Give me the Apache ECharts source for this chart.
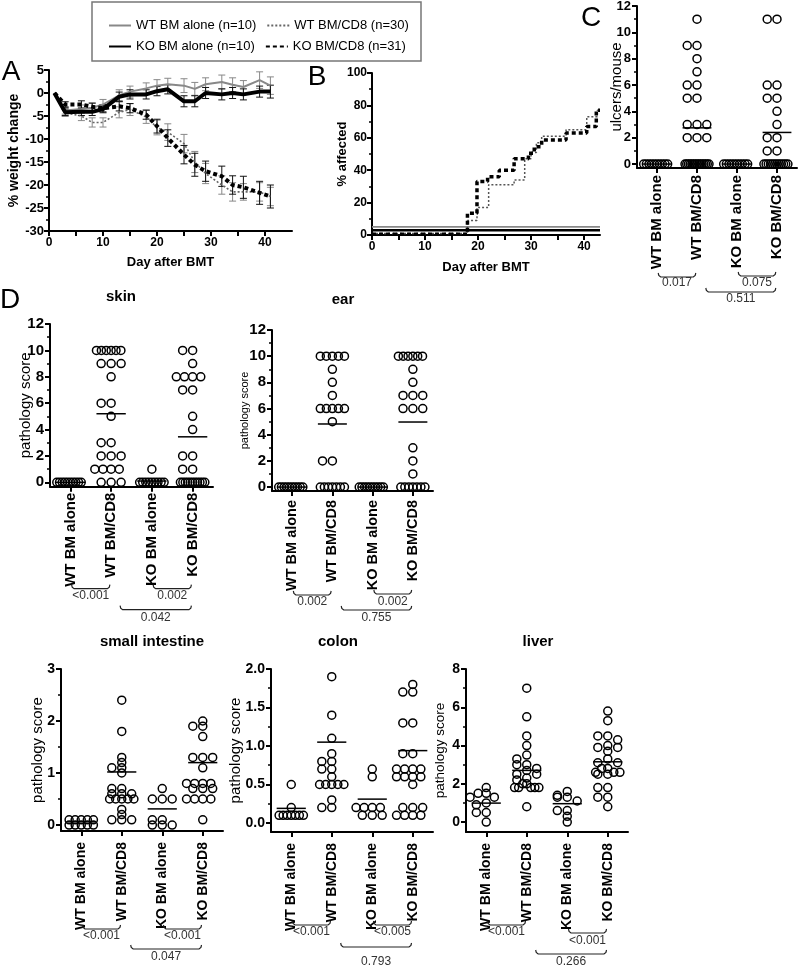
<!DOCTYPE html>
<html><head><meta charset="utf-8">
<script src="https://cdn.jsdelivr.net/npm/echarts@6/dist/echarts.min.js"></script>
<style>html,body{margin:0;padding:0;background:#fff}#c{width:800px;height:967px}</style>
</head><body><div id="c"></div>
<script>
const FONT = '"Liberation Sans", Arial, sans-serif';

// ---------- shared labels ----------
const cats = ['WT BM alone', 'WT BM/CD8', 'KO BM alone', 'KO BM/CD8'];
const seriesNames = ['WT BM alone (n=10)', 'WT BM/CD8 (n=30)', 'KO BM alone (n=10)', 'KO BM/CD8 (n=31)'];

// ---------- panel A : weight change ----------
const daysA = [1, 3, 6, 8, 10, 13, 15, 18, 20, 22, 25, 27, 29, 32, 34, 36, 39, 41];
const wtAloneA = [0, -3.8, -3.5, -3.2, -2.5, -0.5, 0.3, 1.0, 1.6, 1.9, 1.6, 0.9, 1.9, 2.4, 1.8, 1.3, 2.8, 1.6];
const wtAloneErr = [0, 0.8, 0.9, 1.0, 1.1, 1.2, 1.2, 1.2, 1.3, 1.3, 1.5, 1.4, 1.4, 1.5, 1.5, 1.4, 1.8, 1.9];
const koAloneA = [0, -4.2, -4.1, -4.1, -3.5, -0.8, -0.3, -0.3, 0.4, 0.8, -1.8, -1.8, 0, -0.3, 0, -0.3, 0.3, 0.3];
const koAloneErr = [0, 0.7, 0.8, 0.8, 0.8, 1.0, 1.0, 1.0, 1.0, 1.0, 1.2, 1.2, 1.2, 1.2, 1.2, 1.2, 1.2, 1.4];
const wtCd8A = [0, -4.3, -5, -6.4, -6.4, -4.2, -3.6, -5.2, -7.5, -8.5, -11, -15, -17.5, -20, -21.5, -21.5, -21.5, -22.5];
const wtCd8Err = [0, 0.8, 1.0, 1.0, 1.0, 1.2, 1.3, 1.4, 1.6, 1.8, 2.0, 2.3, 2.2, 2.0, 2.0, 1.8, 2.0, 2.0];
const koCd8A = [0, -2.5, -2.5, -3, -3.3, -2.9, -3.3, -4.7, -7.2, -9.8, -13.4, -15.6, -17, -18.1, -20, -20.5, -21.7, -22.5];
const koCd8Err = [0, 0.6, 0.8, 0.8, 0.8, 1.0, 1.0, 1.0, 1.5, 1.8, 2.0, 2.5, 2.2, 2.2, 2.0, 2.4, 2.5, 2.5];
const aXLabels = [0, 10, 20, 30, 40];
const aXTicks = [0, 5, 10, 15, 20, 25, 30, 35, 40];

// ---------- panel B : % affected (step curves: [day, new value]) ----------
const bWtAlone = [[0, 5], [43, 5]];
const bKoAlone = [[0, 3], [43, 3]];
const bWtCd8Steps = [[0, 1], [18, 9], [19.8, 17], [22, 31], [26.8, 34], [28.8, 47], [30, 51], [31, 57], [32, 61], [36.6, 65], [40.5, 73], [42.5, 77]];
const bKoCd8Steps = [[0, 0.5], [18, 13.5], [19.8, 33], [21.8, 36], [24, 40], [26.8, 47], [29.5, 50.5], [30.6, 54.5], [32, 58.6], [36.6, 63], [40.5, 67], [42.3, 77]];
const bEndDay = 43;
const bXLabels = [0, 10, 20, 30, 40];
const bXTicks = [0, 5, 10, 15, 20, 25, 30, 35, 40];

// ---------- panel C : ulcers/mouse ----------
const ulcerScores = [
  [0, 0, 0, 0, 0, 0, 0, 0, 0, 0],
  [11, 9, 9, 8, 7, 6, 6, 5, 5, 3, 3, 3, 2, 2, 2, 0, 0, 0, 0, 0, 0, 0, 0, 0, 0, 0, 0, 0, 0, 0],
  [0, 0, 0, 0, 0, 0, 0, 0, 0, 0],
  [11, 11, 6, 6, 5, 5, 4, 3, 2, 2, 1, 1, 0, 0, 0, 0, 0, 0, 0, 0, 0, 0, 0, 0]
];
const ulcerMeans = [0, 2.75, 0, 2.4];
const ulcerP = ['0.017', '0.075', '0.511'];
const ulcerTicks = [0, 2, 4, 6, 8, 10, 12];
const ulcerMinor = [1, 3, 5, 7, 9, 11];

// ---------- D : skin ----------
const skinScores = [
  [0, 0, 0, 0, 0, 0, 0, 0, 0, 0],
  [10, 10, 10, 10, 10, 10, 9, 9, 9, 8, 6, 6, 5, 3, 3, 2, 2, 2, 1, 1, 1, 1, 0, 0, 0],
  [1, 0, 0, 0, 0, 0, 0, 0, 0, 0],
  [10, 10, 9, 8, 8, 8, 8, 7, 7, 5, 4, 2, 2, 1, 1, 0, 0, 0, 0, 0, 0, 0, 0, 0, 0, 0]
];
const skinMeans = [0, 5.2, 0.1, 3.45];
const skinP = ['<0.001', '0.002', '0.042'];
const skinTicks = [0, 2, 4, 6, 8, 10, 12];
const skinMinor = [1, 3, 5, 7, 9, 11];

// ---------- D : ear ----------
const earScores = [
  [0, 0, 0, 0, 0, 0, 0, 0, 0, 0],
  [10, 10, 10, 10, 10, 9, 8, 7, 6, 6, 6, 6, 6, 5, 2, 2, 0, 0, 0, 0, 0, 0, 0],
  [0, 0, 0, 0, 0, 0, 0, 0, 0, 0],
  [10, 10, 10, 10, 10, 10, 9, 8, 7, 7, 7, 6, 6, 6, 3, 2, 1, 0, 0, 0, 0, 0, 0, 0]
];
const earMeans = [0, 4.82, 0, 4.97];
const earP = ['0.002', '0.002', '0.755'];
const earTicks = [0, 2, 4, 6, 8, 10, 12];
const earMinor = [1, 3, 5, 7, 9, 11];

// ---------- small intestine ----------
const siScores = [
  [0.1, 0.1, 0.1, 0.1, 0.1, 0, 0, 0, 0, 0],
  [2.4, 1.8, 1.3, 1.2, 1.1, 1.1, 1.0, 0.7, 0.7, 0.6, 0.6, 0.6, 0.5, 0.5, 0.5, 0.5, 0.5, 0.3, 0.2, 0.1, 0.1, 0.1],
  [0.7, 0.5, 0.5, 0.5, 0.1, 0.1, 0, 0, 0],
  [2.0, 1.9, 1.9, 1.7, 1.3, 1.3, 1.3, 1.1, 0.8, 0.8, 0.8, 0.8, 0.7, 0.7, 0.7, 0.5, 0.5, 0.5, 0.5, 0.1]
];
const siMeans = [0.06, 1.02, 0.31, 1.2];
const siP = ['<0.001', '<0.001', '0.047'];
const siTicks = [0, 1, 2, 3];
const siMinor = [0.5, 1.5, 2.5];

// ---------- colon ----------
const colonScores = [
  [0.5, 0.2, 0.1, 0.1, 0.1, 0.1, 0.1, 0.1, 0.1],
  [1.9, 1.4, 1.1, 0.9, 0.8, 0.8, 0.7, 0.7, 0.6, 0.5, 0.5, 0.5, 0.5, 0.5, 0.3, 0.2, 0.2],
  [0.7, 0.6, 0.2, 0.2, 0.2, 0.2, 0.1, 0.1, 0.1],
  [1.8, 1.7, 1.7, 1.3, 1.3, 0.9, 0.9, 0.7, 0.7, 0.7, 0.7, 0.6, 0.6, 0.6, 0.6, 0.5, 0.2, 0.2, 0.2, 0.1, 0.1, 0.1, 0.1]
];
const colonMeans = [0.19, 1.05, 0.31, 0.94];
const colonP = ['<0.001', '<0.005', '0.793'];
const colonTicks = [0, 0.5, 1.0, 1.5, 2.0];
const colonMinor = [0.25, 0.75, 1.25, 1.75];

// ---------- liver ----------
const liverScores = [
  [1.8, 1.5, 1.5, 1.3, 1.3, 1.0, 0.9, 0.5, 0.5, 0.0],
  [7.0, 5.5, 4.5, 4.0, 3.5, 3.3, 3.0, 3.0, 2.8, 2.7, 2.5, 2.5, 2.3, 2.2, 2.0, 2.0, 1.8, 1.8, 1.8, 1.8, 1.8, 0.8],
  [1.6, 1.4, 1.3, 1.3, 1.1, 0.6, 0.6, 0.3, 0.0],
  [5.8, 5.3, 4.5, 4.5, 4.3, 4.0, 3.9, 3.9, 3.7, 3.3, 3.1, 3.1, 2.8, 2.8, 2.6, 2.6, 2.6, 2.5, 2.5, 1.8, 1.8, 1.3, 1.3, 0.8]
];
const liverMeans = [0.99, 2.7, 0.96, 3.15];
const liverP = ['<0.001', '<0.001', '0.266'];
const liverTicks = [0, 2, 4, 6, 8];
const liverMinor = [1, 3, 5, 7];

// ---------- helpers ----------
function spread(values, tol, step, maxSpan) {
  const idx = values.map((v, i) => i).sort((a, b) => values[b] - values[a]);
  const off = new Array(values.length).fill(0);
  let i = 0;
  while (i < idx.length) {
    const v0 = values[idx[i]];
    let j = i;
    while (j < idx.length && Math.abs(values[idx[j]] - v0) <= tol) j++;
    const n = j - i;
    const s = n > 1 ? Math.min(step, maxSpan / (n - 1)) : 0;
    for (let k = 0; k < n; k++) {
      const m = k === 0 ? 0 : (k % 2 === 1 ? -Math.ceil(k / 2) : Math.ceil(k / 2));
      off[idx[i + k]] = m * s;
    }
    i = j;
  }
  return off;
}
function stairs(steps, endX) {
  const pts = [];
  steps.forEach((s, i) => {
    if (i > 0) pts.push([s[0], steps[i - 1][1]]);
    pts.push([s[0], s[1]]);
  });
  pts.push([endX, steps[steps.length - 1][1]]);
  return pts;
}
function errRender(color) {
  return function (params, api) {
    const x = api.value(0), y = api.value(1), e = api.value(2);
    if (!e) return null;
    const t = api.coord([x, y + e]), b = api.coord([x, y - e]);
    const w = 3.5, st = { stroke: color, lineWidth: 1 };
    return { type: 'group', children: [
      { type: 'line', shape: { x1: t[0], y1: t[1], x2: b[0], y2: b[1] }, style: st },
      { type: 'line', shape: { x1: t[0] - w, y1: t[1], x2: t[0] + w, y2: t[1] }, style: st },
      { type: 'line', shape: { x1: b[0] - w, y1: b[1], x2: b[0] + w, y2: b[1] }, style: st }
    ] };
  };
}

const axisLineStyle = { color: '#000', width: 2 };
const tickStyle = { color: '#000', width: 2 };

const grids = [], xAxes = [], yAxes = [], series = [];

// ----- A -----
grids.push({ left: 49, top: 70, width: 243, height: 161 });
xAxes.push({ type: 'value', gridIndex: 0, min: 0, max: 45,
  axisLine: { onZero: false, lineStyle: axisLineStyle },
  axisTick: { length: 5, customValues: aXTicks, lineStyle: tickStyle },
  axisLabel: { customValues: aXLabels, color: '#000', fontWeight: 'bold', fontSize: 12, fontFamily: FONT, margin: 6 },
  splitLine: { show: false },
  name: 'Day after BMT', nameLocation: 'middle', nameGap: 25, nameMoveOverlap: false,
  nameTextStyle: { color: '#000', fontWeight: 'bold', fontSize: 13, fontFamily: FONT } });
yAxes.push({ type: 'value', gridIndex: 0, min: -30, max: 5, interval: 5,
  axisLine: { show: true, onZero: false, lineStyle: axisLineStyle },
  axisTick: { show: true, length: 5, lineStyle: tickStyle },
  minorTick: { show: true, splitNumber: 2, length: 3, lineStyle: { color: '#000', width: 1.5 } },
  axisLabel: { color: '#000', fontWeight: 'bold', fontSize: 13, fontFamily: FONT, margin: 5 },
  splitLine: { show: false },
  name: '% weight change', nameLocation: 'middle', nameGap: 28, nameMoveOverlap: false,
  nameTextStyle: { color: '#000', fontWeight: 'bold', fontSize: 14, fontFamily: FONT } });

const aDefs = [
  { name: seriesNames[0], vals: wtAloneA, err: wtAloneErr, color: '#888', width: 2, type: 'solid', ebar: '#888' },
  { name: seriesNames[1], vals: wtCd8A, err: wtCd8Err, color: '#666', width: 1.6, type: [2, 2], ebar: '#888' },
  { name: seriesNames[2], vals: koAloneA, err: koAloneErr, color: '#000', width: 4, type: 'solid', ebar: '#111' },
  { name: seriesNames[3], vals: koCd8A, err: koCd8Err, color: '#000', width: 4, type: [4, 3], ebar: '#111' }
];
aDefs.forEach(d => {
  series.push({ type: 'custom', xAxisIndex: 0, yAxisIndex: 0, silent: true, z: 2,
    renderItem: errRender(d.ebar), encode: { x: 0, y: 1 },
    data: daysA.map((x, i) => [x, d.vals[i], d.err[i]]) });
});
aDefs.forEach(d => {
  series.push({ type: 'line', name: d.name, xAxisIndex: 0, yAxisIndex: 0, symbol: 'none', z: 3,
    lineStyle: { color: d.color, width: d.width, type: d.type, cap: 'butt' }, itemStyle: { color: d.color },
    data: daysA.map((x, i) => [x, d.vals[i]]) });
});

// ----- B -----
grids.push({ left: 372, top: 73, width: 228, height: 162 });
xAxes.push({ type: 'value', gridIndex: 1, min: 0, max: bEndDay,
  axisLine: { onZero: false, lineStyle: axisLineStyle },
  axisTick: { length: 5, customValues: bXTicks, lineStyle: tickStyle },
  axisLabel: { customValues: bXLabels, color: '#000', fontWeight: 'bold', fontSize: 12, fontFamily: FONT, margin: 6 },
  splitLine: { show: false },
  name: 'Day after BMT', nameLocation: 'middle', nameGap: 26, nameMoveOverlap: false,
  nameTextStyle: { color: '#000', fontWeight: 'bold', fontSize: 13, fontFamily: FONT } });
yAxes.push({ type: 'value', gridIndex: 1, min: 0, max: 100, interval: 20,
  axisLine: { show: true, onZero: false, lineStyle: axisLineStyle },
  axisTick: { show: true, length: 5, lineStyle: tickStyle },
  minorTick: { show: true, splitNumber: 2, length: 3, lineStyle: { color: '#000', width: 1.5 } },
  axisLabel: { color: '#000', fontWeight: 'bold', fontSize: 12, fontFamily: FONT, margin: 5 },
  splitLine: { show: false },
  name: '% affected', nameLocation: 'middle', nameGap: 23, nameMoveOverlap: false,
  nameTextStyle: { color: '#000', fontWeight: 'bold', fontSize: 13, fontFamily: FONT } });
[
  { name: 'B ' + cats[0], data: bWtAlone, color: '#888', width: 1.6, type: 'solid' },
  { name: 'B ' + cats[2], data: bKoAlone, color: '#000', width: 2.5, type: 'solid' },
  { name: 'B ' + cats[1], data: stairs(bWtCd8Steps, bEndDay), color: '#555', width: 1.5, type: [2, 2] },
  { name: 'B ' + cats[3], data: stairs(bKoCd8Steps, bEndDay), color: '#000', width: 3.5, type: [4, 3] }
].forEach(d => {
  series.push({ type: 'line', name: d.name, xAxisIndex: 1, yAxisIndex: 1, symbol: 'none', z: 3,
    lineStyle: { color: d.color, width: d.width, type: d.type, cap: 'butt' }, data: d.data });
});

// ----- scatter panels -----
const panels = [
  { grid: { left: 637, top: 6, width: 160, height: 162 }, min: -0.3, max: 12, major: ulcerTicks, minor: ulcerMinor, dec: 0,
    tickFont: 13, catFont: 15, catMargin: 7, yName: 'ulcers/mouse', yNameSize: 15, yNameGap: 13,
    scores: ulcerScores, means: ulcerMeans, p: ulcerP, br: [[109, 115], [108, 115], [124, 131]], tol: 0.4 },
  { grid: { left: 50, top: 324, width: 163, height: 162.7 }, min: -0.33, max: 12, major: skinTicks, minor: skinMinor, dec: 0,
    tickFont: 15, catFont: 15, catMargin: 6, yName: 'pathology score', yNameSize: 15, yNameGap: 17,
    scores: skinScores, means: skinMeans, p: skinP, br: [[102, 109], [102, 109], [123, 131]], tol: 0.4 },
  { grid: { left: 272, top: 330, width: 161, height: 161 }, min: -0.3, max: 12, major: earTicks, minor: earMinor, dec: 0,
    tickFont: 15, catFont: 14.5, catMargin: 9, yName: 'pathology score', yNameSize: 11, yNameGap: 22,
    scores: earScores, means: earMeans, p: earP, br: [[104, 111], [103, 111], [119, 127]], tol: 0.4 },
  { grid: { left: 61, top: 669, width: 162, height: 162 }, min: -0.115, max: 3, major: siTicks, minor: siMinor, dec: 0,
    tickFont: 14, catFont: 14, catMargin: 11, yName: 'pathology score', yNameSize: 15, yNameGap: 16,
    scores: siScores, means: siMeans, p: siP, br: [[98, 105], [98, 105], [118, 126]], tol: 0.04 },
  { grid: { left: 271, top: 669, width: 162, height: 163 }, min: -0.117, max: 2, major: colonTicks, minor: colonMinor, dec: 1,
    tickFont: 14, catFont: 14, catMargin: 11, yName: 'pathology score', yNameSize: 15, yNameGap: 28,
    scores: colonScores, means: colonMeans, p: colonP, br: [[93, 100], [93, 100], [115, 130]], tol: 0.04 },
  { grid: { left: 466, top: 669, width: 162, height: 163 }, min: -0.52, max: 8, major: liverTicks, minor: liverMinor, dec: 0,
    tickFont: 14, catFont: 14, catMargin: 11, yName: 'pathology score', yNameSize: 13.5, yNameGap: 19,
    scores: liverScores, means: liverMeans, p: liverP, br: [[93, 100], [101, 109], [122, 130]], tol: 0.22 }
];

panels.forEach((cfg, i) => {
  const gi = 2 + i, yMaj = 2 + 2 * i;
  grids.push(cfg.grid);
  xAxes.push({ type: 'value', gridIndex: gi, min: -0.5, max: 3.5,
    axisLine: { onZero: false, lineStyle: axisLineStyle },
    axisTick: { length: 5, customValues: [0, 1, 2, 3], lineStyle: tickStyle },
    axisLabel: { customValues: [0, 1, 2, 3], rotate: 90, margin: cfg.catMargin, formatter: v => cats[Math.round(v)],
      color: '#000', fontWeight: 'bold', fontSize: cfg.catFont, fontFamily: FONT },
    splitLine: { show: false } });
  yAxes.push({ type: 'value', gridIndex: gi, min: cfg.min, max: cfg.max, position: 'left',
    axisLine: { show: true, onZero: false, lineStyle: axisLineStyle },
    axisTick: { show: true, length: 5, customValues: cfg.major, lineStyle: tickStyle },
    axisLabel: { customValues: cfg.major, margin: 6, color: '#000', fontWeight: 'bold', fontSize: cfg.tickFont, fontFamily: FONT,
      formatter: v => Number(v).toFixed(cfg.dec) },
    splitLine: { show: false },
    name: cfg.yName, nameLocation: 'middle', nameGap: cfg.yNameGap, nameMoveOverlap: false,
    nameTextStyle: { color: '#000', fontSize: cfg.yNameSize, fontFamily: FONT } });
  yAxes.push({ type: 'value', gridIndex: gi, min: cfg.min, max: cfg.max, position: 'left',
    axisLine: { show: false, onZero: false },
    axisTick: { show: true, length: 3, customValues: cfg.minor, lineStyle: { color: '#000', width: 1.5 } },
    axisLabel: { show: false }, splitLine: { show: false } });

  const pts = [];
  cfg.scores.forEach((arr, c) => {
    const off = spread(arr, cfg.tol, 0.245, 0.6);
    arr.forEach((v, k) => pts.push([c + off[k], v]));
  });
  series.push({ type: 'scatter', xAxisIndex: gi, yAxisIndex: yMaj, symbol: 'circle', symbolSize: 8, z: 3,
    itemStyle: { color: 'rgba(0,0,0,0)', borderColor: '#000', borderWidth: 1.5, opacity: 1 },
    emphasis: { disabled: true }, data: pts });
  series.push({ type: 'custom', xAxisIndex: gi, yAxisIndex: yMaj, silent: true, z: 4, encode: { x: 0, y: 1 },
    renderItem: (params, api) => {
      const c = api.value(0), m = api.value(1);
      const a = api.coord([c - 0.36, m]), b = api.coord([c + 0.36, m]);
      return { type: 'line', shape: { x1: a[0], y1: a[1], x2: b[0], y2: b[1] }, style: { stroke: '#000', lineWidth: 1.5 } };
    },
    data: cfg.means.map((m, c) => [c, m]) });
  series.push({ type: 'custom', xAxisIndex: gi, yAxisIndex: yMaj, silent: true, z: 4, encode: { x: 0, y: 1 },
    renderItem: (params, api) => {
      const a = api.value(0), b = api.value(1), k = params.dataIndex;
      const base = api.coord([a, cfg.min])[1];
      const xa = api.coord([a + (k === 2 ? 0.22 : 0.03), cfg.min])[0];
      const xb = api.coord([b - 0.03, cfg.min])[0];
      const y = base + cfg.br[k][0], ly = base + cfg.br[k][1];
      return { type: 'group', children: [
        { type: 'polyline', shape: { points: [[xa, y - 4], [xa + 0.6, y - 1.6], [xa + 2.5, y], [xb - 2.5, y], [xb - 0.6, y - 1.6], [xb, y - 4]] },
          style: { stroke: '#222', fill: 'none', lineWidth: 1.2 } },
        { type: 'text', style: { text: cfg.p[k], x: (xa + xb) / 2, y: ly, align: 'center', verticalAlign: 'middle',
          textAlign: 'center', textVerticalAlign: 'middle', font: '12px ' + FONT, fill: '#333' } }
      ] };
    },
    data: [[0, 1], [2, 3], [1, 3]] });
});

grids.forEach(g => { g.containLabel = false; g.outerBoundsMode = 'none'; });

function txt(t, x, y, font) {
  return { type: 'text', x: x, y: y, silent: true,
    style: { text: t, font: font, fill: '#000', align: 'center', verticalAlign: 'middle', textAlign: 'center', textVerticalAlign: 'middle' } };
}

const legendBase = { itemWidth: 22, itemHeight: 14, itemGap: 10, selectedMode: false,
  itemStyle: { opacity: 0, borderWidth: 0 },
  textStyle: { color: '#000', fontSize: 13, fontFamily: FONT } };

const option = {
  animation: false,
  backgroundColor: '#fff',
  grid: grids, xAxis: xAxes, yAxis: yAxes, series: series,
  legend: [
    Object.assign({ data: [seriesNames[0], seriesNames[1]], left: 103, top: 14 }, legendBase),
    Object.assign({ data: [seriesNames[2], seriesNames[3]], left: 103, top: 35 }, legendBase)
  ],
  graphic: [
    { type: 'rect', silent: true, shape: { x: 92, y: 2, width: 329, height: 59 }, style: { fill: 'none', stroke: '#777', lineWidth: 1.5 } },
    txt('A', 11, 72, '28px ' + FONT),
    txt('B', 317, 77, '28px ' + FONT),
    txt('C', 591, 18, '28px ' + FONT),
    txt('D', 10, 300, '28px ' + FONT),
    txt('skin', 121, 297, 'bold 15px ' + FONT),
    txt('ear', 343, 300, 'bold 15px ' + FONT),
    txt('small intestine', 152, 642, 'bold 15px ' + FONT),
    txt('colon', 338, 642, 'bold 15px ' + FONT),
    txt('liver', 538, 642, 'bold 15px ' + FONT)
  ]
};

const chart = echarts.init(document.getElementById('c'), null, { renderer: 'canvas' });
chart.setOption(option);
</script>
</body></html>
